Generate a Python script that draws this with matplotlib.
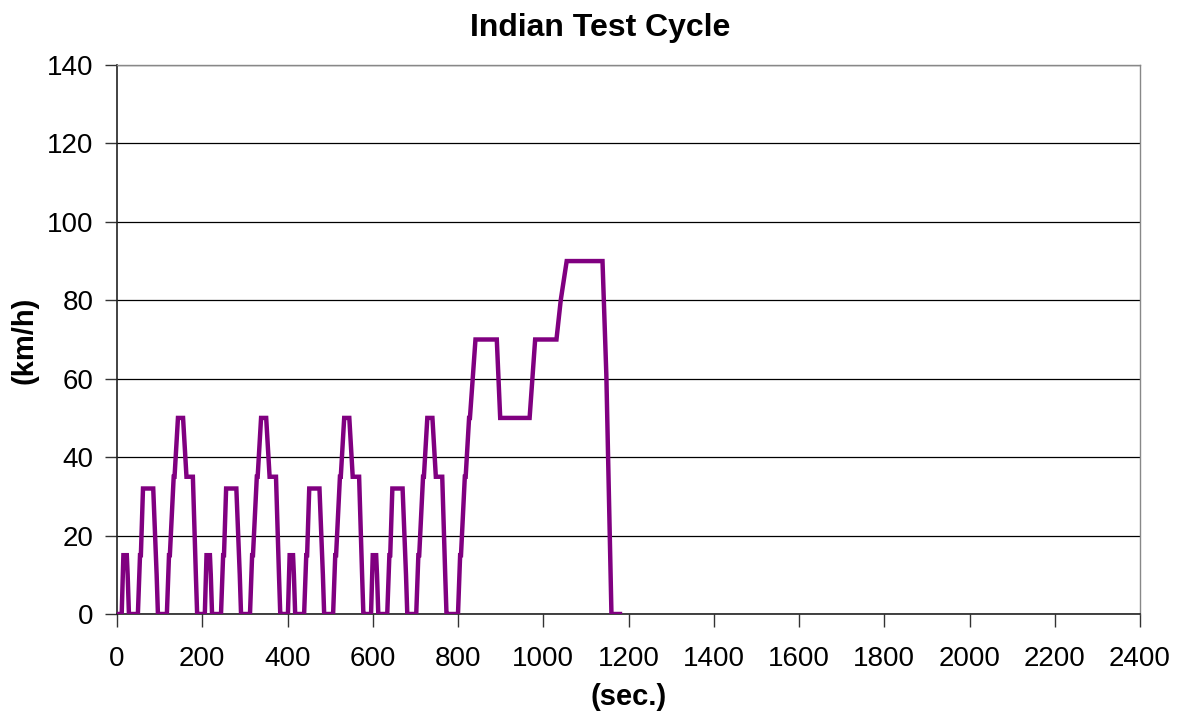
import matplotlib
matplotlib.use("Agg")
import matplotlib.pyplot as plt
import numpy as np

plt.rcParams['font.family'] = ['Liberation Sans', 'DejaVu Sans']

# One ECE urban elementary cycle (195 s), repeated four times
ece_t = [0, 11, 15, 23, 25, 28, 49, 54, 56, 61, 85, 93, 96, 117, 122, 124, 133, 135, 143, 155, 163, 178, 185, 188, 195]
ece_v = [0, 0, 15, 15, 10, 0, 0, 15, 15, 32, 32, 10, 0, 0, 15, 15, 35, 35, 50, 50, 35, 35, 10, 0, 0]
ece_starts = [0, 195, 390, 585]

# Extra-urban part (times relative to its start at 780 s), max 90 km/h
eudc_start = 780
eudc_t = [0, 20, 25, 27, 36, 38, 46, 48, 61, 111, 119, 188, 201, 251, 261, 275, 359, 368, 380, 400]
eudc_v = [0, 0, 15, 15, 35, 35, 50, 50, 70, 70, 50, 50, 70, 70, 80, 90, 90, 61, 0, 0]

t_all = []
v_all = []
for s in ece_starts:
    t_all += [s + t for t in ece_t]
    v_all += list(ece_v)
t_all += [eudc_start + t for t in eudc_t]
v_all += list(eudc_v)

W, H = 1184, 716
fig = plt.figure(figsize=(W / 100, H / 100), dpi=100)
ax = fig.add_axes([117 / W, (H - 614) / H, (1140 - 117) / W, (614 - 65) / H])
ax.plot(t_all, v_all, color='#800080', lw=3.2, solid_joinstyle='miter', zorder=3)

ax.set_xlim(0, 2400)
ax.set_ylim(0, 140)
ax.set_xticks(np.arange(0, 2401, 200))
ax.set_yticks(np.arange(0, 141, 20))
ax.yaxis.grid(True, color='black', lw=0.9)
ax.set_axisbelow(True)
ax.tick_params(axis='both', direction='out', length=9, width=1, labelsize=20, color='#333333')
ax.tick_params(axis='x', pad=14)
ax.tick_params(axis='y', pad=8)
for side in ['top', 'right']:
    ax.spines[side].set_color('#888888')
    ax.spines[side].set_linewidth(1)
for side in ['left', 'bottom']:
    ax.spines[side].set_color('#222222')
    ax.spines[side].set_linewidth(1.2)

fig.text(600 / W, 1 - 28 / H, 'Indian Test Cycle', fontsize=23, fontweight='bold',
         ha='center', va='center')
fig.text(628.5 / W, 1 - 697 / H, '(sec.)', fontsize=21, fontweight='bold',
         ha='center', va='center')
fig.text(25 / W, 1 - 340 / H, '(km/h)', fontsize=21, fontweight='bold',
         ha='center', va='center', rotation=90)

fig.savefig('out.png', dpi=100)
